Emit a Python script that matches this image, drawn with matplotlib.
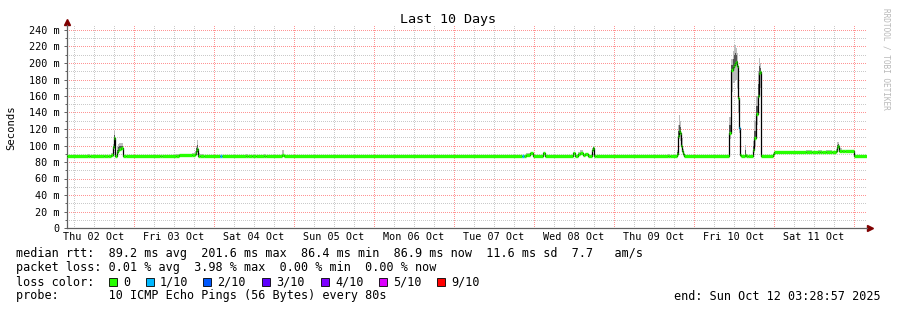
import numpy as np
import matplotlib
matplotlib.use('Agg')
from matplotlib import pyplot as plt
import matplotlib.ticker as ticker
from matplotlib.patches import Rectangle

# hours since Thu 02 Oct 00:00, start of each rrd step
step_hours = [3.9, 10.2, 10.8, 15.0, 16.2, 17.1, 17.7, 18.0, 18.3, 18.9,
              19.2, 19.5, 20.1, 20.7, 21.6, 31.8, 32.4, 36.6, 37.5, 41.4,
              42.3, 42.6, 42.9, 43.2, 43.8, 45.0, 49.8, 50.4, 57.6, 58.2,
              59.4, 60.6, 63.0, 63.6, 68.4, 69.0, 140.4, 141.0, 141.6, 142.8,
              143.7, 146.7, 147.3, 155.7, 156.3, 157.2, 157.8, 158.7, 159.3, 160.2,
              161.4, 161.7, 162.0, 162.6, 184.2, 184.8, 186.9, 187.2, 187.5, 187.8,
              188.1, 188.4, 188.7, 189.0, 202.5, 203.1, 203.7, 204.0, 204.3, 204.6,
              204.9, 205.2, 205.5, 205.8, 206.1, 207.3, 207.6, 208.2, 209.7, 210.0,
              210.6, 211.2, 211.5, 211.8, 212.1, 215.7, 216.0, 225.6, 227.4, 229.2,
              229.8, 230.4, 231.6, 233.4, 234.6, 234.9, 235.2, 235.5, 236.4, 237.3,
              240.0]
end_hour = 243.9

median_ms = [87, 87, 87, 87, 87, 88, 98, 109, 87, 92,
             94, 96, 97, 87, 87, 87, 87, 87.5, 88, 88.5,
             90, 93, 96, 87.5, 87.5, 87.5, 87.5, 87.5, 87.5, 87.5,
             87.5, 87.5, 87.5, 87.5, 89, 87.5, 87.5, 87.5, 89, 90.5,
             87.5, 91, 87.5, 91, 87.5, 90, 91, 88, 90, 87.5,
             94, 97, 87.5, 87.5, 87.5, 87.5, 90, 112, 117, 115,
             100, 93, 90, 87.5, 115, 191.5, 195, 198, 200, 201.6,
             196, 158, 121, 89, 87, 89, 87, 87, 95, 109,
             138, 160, 187.5, 189, 87, 90, 92.5, 92.5, 92.5, 92.5,
             92.5, 92.5, 92.5, 92.5, 93, 98.5, 100, 93, 93, 93,
             87]

smoke_max_ms = [87, 89.5, 87, 89, 87, 90.5, 102, 117, 87, 100,
                102, 103, 103, 89, 87, 89, 87, 90, 89.5, 91,
                93, 100, 107, 91, 90, 87.5, 87.5, 87.5, 90, 87.5,
                89, 87.5, 90, 87.5, 94, 87.5, 87.5, 89, 91, 91.5,
                88, 92, 87.5, 92, 87.5, 92, 95, 90, 91, 87.5,
                97, 100, 89, 87.5, 90, 87.5, 95, 125, 137, 130,
                110, 109, 96, 87.5, 135, 205, 215, 222, 222, 218,
                212, 180, 130, 95, 87, 101, 90, 87, 105, 130,
                160, 190, 206, 200, 88, 90, 92.5, 94.5, 92.5, 94,
                95, 92.5, 94.5, 92.5, 96, 104, 104, 97, 94.5, 93,
                87]

smoke_dark_ms = [None] * 6 + [100, 113, None, 95, 98, 99, 99] + [None] * 8 + \
                [97, 101] + [None] * 28 + [98] + [None] * 4 + \
                [92, 118, 125, 122, 105, 100] + [None] * 2 + \
                [125, 198, 205, 210, 212, 210, 203, 168, 126, None, None, 94,
                 None, None, 100, 118, 148, 175, 196, 194] + [None] * 11 + \
                [101, 102] + [None] * 4

smoke_min_ms = [None] * 7 + [100] + [None] * 49 + [100, 108, 105] + [None] * 4 + \
               [108, 165, 176, 176, 178, 180, 170, 140, 115] + [None] * 6 + \
               [100, 125, 140, 165, 170] + [None] * 17

# index into loss_colors
loss_level = [0] * 26 + [1] + [0] * 9 + [1] + [0] * 35 + [1] + [0] * 28

loss_labels = ['0', '1/10', '2/10', '3/10', '4/10', '5/10', '9/10']
loss_colors = ['#26ff00', '#00b8ff', '#0059ff', '#5e00ff', '#7e00ff', '#dd00ff', '#ff0000']

day_labels = ['Thu 02 Oct', 'Fri 03 Oct', 'Sat 04 Oct', 'Sun 05 Oct', 'Mon 06 Oct',
              'Tue 07 Oct', 'Wed 08 Oct', 'Thu 09 Oct', 'Fri 10 Oct', 'Sat 11 Oct']

legend_lines = [
    'median rtt:  89.2 ms avg  201.6 ms max  86.4 ms min  86.9 ms now  11.6 ms sd  7.7   am/s',
    'packet loss: 0.01 % avg  3.98 % max  0.00 % min  0.00 % now',
    'loss color:',
    'probe:       10 ICMP Echo Pings (56 Bytes) every 80s',
]
end_text = 'end: Sun Oct 12 03:28:57 2025'

W, H = 897, 310
MONO = 'DejaVu Sans Mono'


def fx(px):
    return px / W


def fy(py):
    return 1 - py / H


fig = plt.figure(figsize=(W / 100, H / 100), dpi=100)
fig.patch.set_facecolor('white')
ax = fig.add_axes([fx(67), fy(228), 800 / W, 203 / H])
ax.set_xlim(step_hours[0], end_hour)
ax.set_ylim(0, 203 / 0.825)

t = np.array(step_hours + [end_hour])
med = np.array(median_ms, dtype=float)
hi = np.array(smoke_max_ms, dtype=float)
dark = np.array([np.nan if v is None else v for v in smoke_dark_ms], dtype=float)
lo = np.array([np.nan if v is None else v for v in smoke_min_ms], dtype=float)
dark = np.where(np.isnan(dark), med, dark)
lo = np.where(np.isnan(lo), med, lo)


def ext(a):
    return np.append(a, a[-1])


# smoke
ax.fill_between(t, ext(lo), ext(hi), step='post', color='#bdbdbd', lw=0, zorder=2)
ax.fill_between(t, ext(med), ext(dark), step='post', color='#555555', lw=0, zorder=3)
# median line: black connector, coloured by loss
ax.step(t, ext(med), where='post', color='black', lw=0.9, zorder=4)
ax.hlines(med, t[:-1], t[1:], colors=[loss_colors[i] for i in loss_level],
          lw=2.4, zorder=5)

# grid (dotted, 1px on / 1px off)
ax.xaxis.set_major_locator(ticker.MultipleLocator(24))
ax.xaxis.set_minor_locator(ticker.MultipleLocator(6))
ax.yaxis.set_major_locator(ticker.MultipleLocator(20))
ax.yaxis.set_minor_locator(ticker.MultipleLocator(10))
ax.grid(which='major', color='#ff9494', lw=0.72, ls=(0.5, (1, 1)), zorder=1)
ax.grid(which='minor', color='#cacaca', lw=0.72, ls=(0.5, (1, 1)), zorder=1)
ax.set_axisbelow(True)

ax.yaxis.set_major_formatter(ticker.FuncFormatter(
    lambda v, p: '0' if v == 0 else '%d m' % v))
ax.tick_params(axis='y', which='major', length=2.5, width=0.7, color='#606060',
               pad=3, labelsize=7.3)
ax.tick_params(axis='y', which='minor', length=1.5, width=0.7, color='#606060')
ax.tick_params(axis='x', which='both', length=0, labelbottom=False)
for lab in ax.get_yticklabels():
    lab.set_family(MONO)

for s in ('top', 'right'):
    ax.spines[s].set_visible(False)
for s in ('left', 'bottom'):
    ax.spines[s].set_color('#606060')
    ax.spines[s].set_linewidth(0.9)
ax.plot([0], [1.015], marker='^', ms=4, color='#800000', transform=ax.transAxes,
        clip_on=False)
ax.plot([1.004], [0], marker='>', ms=4, color='#800000', transform=ax.transAxes,
        clip_on=False)

for k, lab in enumerate(day_labels):
    ax.annotate(lab, xy=(12 + 24 * k, 0), xycoords=('data', 'axes fraction'),
                xytext=(0, -6.8), textcoords='offset points', ha='center',
                va='center', fontsize=7.3, family=MONO)

fig.text(fx(448), fy(19), 'Last 10 Days', ha='center', va='center',
         fontsize=9.6, family=MONO)
fig.text(fx(11), fy(128), 'Seconds', rotation=90, ha='center', va='center',
         fontsize=7.6, family=MONO)
fig.text(fx(886), fy(59), 'RRDTOOL / TOBI OETIKER', rotation=270, ha='center',
         va='center', fontsize=5.6, family=MONO, color='#b8b8b8')

rows = [254, 268, 282, 296]
for y, line in zip(rows, legend_lines):
    fig.text(fx(16), fy(y), line, ha='left', va='center', fontsize=8.5, family=MONO)
fig.text(fx(881), fy(296), end_text, ha='right', va='center', fontsize=8.5, family=MONO)

box_x = [109, 146, 203, 262, 321, 379, 437]
for bx, lab, col in zip(box_x, loss_labels, loss_colors):
    fig.patches.append(Rectangle((fx(bx), fy(286)), 8 / W, 8 / H,
                                 transform=fig.transFigure, facecolor=col,
                                 edgecolor='black', lw=0.6))
    fig.text(fx(bx + 14), fy(282), lab, ha='left', va='center', fontsize=8.5,
             family=MONO)

fig.savefig('out.png', dpi=100)
plt.close()
